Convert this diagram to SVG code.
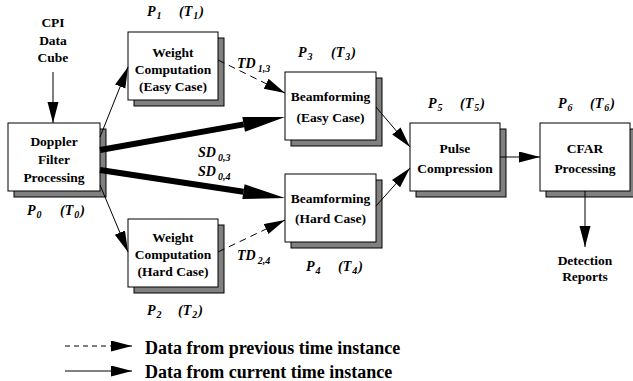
<svg xmlns="http://www.w3.org/2000/svg" width="633" height="381" viewBox="0 0 633 381">
<style>
text{font-family:"Liberation Serif","Times New Roman",serif;font-weight:bold;fill:#000}
.t{font-size:13.5px;text-anchor:middle}
.lb{font-size:14px;font-style:italic}
.lg{font-size:18px}
.sub{font-size:10px}
.box{fill:#fff;stroke:#000;stroke-width:1}
.sh{fill:#808080;stroke:#000;stroke-width:1}
.ln{stroke:#000;stroke-width:1;fill:none}
.ds{stroke:#000;stroke-width:1;fill:none;stroke-dasharray:7 5}
.thick{stroke:#000;stroke-width:6;fill:none}
</style>
<defs>
<marker id="ah" markerUnits="userSpaceOnUse" markerWidth="22" markerHeight="12" refX="21" refY="5.5" orient="auto">
<path d="M0,0 L21,5.5 L0,11 z" fill="#000" stroke="none"/>
</marker>
</defs>

<g id="cpi">
<text class="t" x="53" y="27">CPI</text>
<text class="t" x="53" y="45">Data</text>
<text class="t" x="53" y="62">Cube</text>
</g>

<g id="doppler">
<rect class="sh" x="14" y="129" width="92" height="68"/>
<rect class="box" x="8" y="123" width="92" height="68"/>
<text class="t" x="54" y="146">Doppler</text>
<text class="t" x="54" y="164">Filter</text>
<text class="t" x="54" y="182">Processing</text>
<text class="lb" x="27" y="215">P<tspan class="sub" dx="1" dy="3">0</tspan><tspan x="60" dy="-3">(T</tspan><tspan class="sub" dx="1" dy="3">0</tspan><tspan dx="1" dy="-3">)</tspan></text>
</g>

<g id="weight-easy">
<rect class="sh" x="134" y="38" width="90" height="68"/>
<rect class="box" x="128" y="32" width="90" height="68"/>
<text class="t" x="173" y="57">Weight</text>
<text class="t" x="173" y="74">Computation</text>
<text class="t" x="173" y="91">(Easy Case)</text>
<text class="lb" x="147" y="16">P<tspan class="sub" dx="1" dy="3">1</tspan><tspan x="179" dy="-3">(T</tspan><tspan class="sub" dx="1" dy="3">1</tspan><tspan dx="1" dy="-3">)</tspan></text>
</g>

<g id="weight-hard">
<rect class="sh" x="134" y="225" width="90" height="68"/>
<rect class="box" x="128" y="219" width="90" height="68"/>
<text class="t" x="173" y="242">Weight</text>
<text class="t" x="173" y="259">Computation</text>
<text class="t" x="173" y="276">(Hard Case)</text>
<text class="lb" x="147" y="315">P<tspan class="sub" dx="1" dy="3">2</tspan><tspan x="178" dy="-3">(T</tspan><tspan class="sub" dx="1" dy="3">2</tspan><tspan dx="1" dy="-3">)</tspan></text>
</g>

<g id="beam-easy">
<rect class="sh" x="291" y="78" width="91" height="68"/>
<rect class="box" x="285" y="72" width="91" height="68"/>
<text class="t" x="330.5" y="101">Beamforming</text>
<text class="t" x="330.5" y="122">(Easy Case)</text>
<text class="lb" x="298" y="57">P<tspan class="sub" dx="1" dy="3">3</tspan><tspan x="331" dy="-3">(T</tspan><tspan class="sub" dx="1" dy="3">3</tspan><tspan dx="1" dy="-3">)</tspan></text>
</g>

<g id="beam-hard">
<rect class="sh" x="291" y="180" width="91" height="68"/>
<rect class="box" x="285" y="174" width="91" height="68"/>
<text class="t" x="330.5" y="203">Beamforming</text>
<text class="t" x="330.5" y="223">(Hard Case)</text>
<text class="lb" x="306" y="271">P<tspan class="sub" dx="1" dy="3">4</tspan><tspan x="338" dy="-3">(T</tspan><tspan class="sub" dx="1" dy="3">4</tspan><tspan dx="1" dy="-3">)</tspan></text>
</g>

<g id="pulse">
<rect class="sh" x="416" y="129" width="90" height="68"/>
<rect class="box" x="410" y="123" width="90" height="68"/>
<text class="t" x="455" y="153">Pulse</text>
<text class="t" x="455" y="173">Compression</text>
<text class="lb" x="428" y="108">P<tspan class="sub" dx="1" dy="3">5</tspan><tspan x="460" dy="-3">(T</tspan><tspan class="sub" dx="1" dy="3">5</tspan><tspan dx="1" dy="-3">)</tspan></text>
</g>

<g id="cfar">
<rect class="sh" x="546" y="129" width="90" height="68"/>
<rect class="box" x="540" y="123" width="90" height="68"/>
<text class="t" x="585" y="153">CFAR</text>
<text class="t" x="585" y="173">Processing</text>
<text class="lb" x="558" y="108">P<tspan class="sub" dx="1" dy="3">6</tspan><tspan x="590" dy="-3">(T</tspan><tspan class="sub" dx="1" dy="3">6</tspan><tspan dx="1" dy="-3">)</tspan></text>
</g>

<g id="detection">
<text class="t" x="585" y="265">Detection</text>
<text class="t" x="585" y="281">Reports</text>
</g>

<g id="connectors">
<line class="ln" x1="53" y1="72" x2="53" y2="123" marker-end="url(#ah)"/>
<line class="ln" x1="100" y1="137" x2="128" y2="67" marker-end="url(#ah)"/>
<line class="ln" x1="100" y1="185" x2="128" y2="252" marker-end="url(#ah)"/>
<line class="thick" x1="100" y1="150" x2="243.7" y2="124.4"/>
<polygon points="245,131.8 242.3,117 285,117" fill="#000"/>
<line class="thick" x1="100" y1="170" x2="243.5" y2="191.7"/>
<polygon points="242.3,199.1 244.6,184.3 285,198" fill="#000"/>
<line class="ds" x1="218" y1="60" x2="285" y2="93" marker-end="url(#ah)"/>
<line class="ds" x1="218" y1="252" x2="285" y2="220" marker-end="url(#ah)"/>
<line class="ln" x1="376" y1="107" x2="410" y2="147" marker-end="url(#ah)"/>
<line class="ln" x1="376" y1="206" x2="410" y2="168" marker-end="url(#ah)"/>
<line class="ln" x1="500" y1="157" x2="540" y2="157" marker-end="url(#ah)"/>
<line class="ln" x1="585" y1="191" x2="585" y2="247" marker-end="url(#ah)"/>
<text class="lb" x="237" y="68">TD<tspan class="sub" dx="2" dy="4">1,3</tspan></text>
<text class="lb" x="237" y="260">TD<tspan class="sub" dx="2" dy="4">2,4</tspan></text>
<text class="lb" x="198" y="157">SD<tspan class="sub" dx="2" dy="4">0,3</tspan></text>
<text class="lb" x="198" y="176">SD<tspan class="sub" dx="2" dy="4">0,4</tspan></text>
</g>

<g id="legend">
<line x1="65" y1="346" x2="132" y2="346" stroke="#000" stroke-width="1" stroke-dasharray="5 4" marker-end="url(#ah)"/>
<line class="ln" x1="65" y1="371" x2="132" y2="371" marker-end="url(#ah)"/>
<text class="lg" x="145" y="354">Data from previous time instance</text>
<text class="lg" x="145" y="378">Data from current time instance</text>
</g>
</svg>
